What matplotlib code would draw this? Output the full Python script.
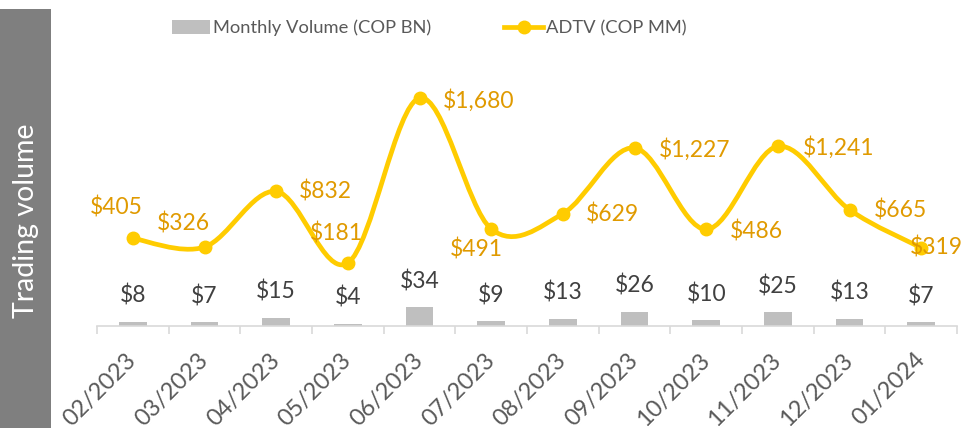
import matplotlib
matplotlib.use("Agg")
import matplotlib.pyplot as plt
from matplotlib.path import Path
from matplotlib.patches import PathPatch, Rectangle, Patch
from matplotlib.lines import Line2D
import numpy as np

plt.rcParams['font.family'] = ['Lato', 'DejaVu Sans']

months = ["02/2023", "03/2023", "04/2023", "05/2023", "06/2023", "07/2023",
          "08/2023", "09/2023", "10/2023", "11/2023", "12/2023", "01/2024"]
monthly_volume = [8, 7, 15, 4, 34, 9, 13, 26, 10, 25, 13, 7]
adtv = [405, 326, 832, 181, 1680, 491, 629, 1227, 486, 1241, 665, 319]

bar_name = "Monthly Volume (COP BN)"
line_name = "ADTV (COP MM)"
side_title = "Trading volume"

BAR_C = "#BFBFBF"
LINE_C = "#FFCC00"
LAB_C = "#E09A00"
TXT_C = "#404040"
TICK_C = "#595959"
AX_C = "#D9D9D9"

W, H = 963, 428
fig = plt.figure(figsize=(W / 100, H / 100), dpi=100)

# side band
fig.patches.append(Rectangle((0, 0), 51 / W, (H - 9) / H, transform=fig.transFigure,
                             facecolor="#7F7F7F", edgecolor="none", zorder=0))
fig.text(26 / W, 1 - 221 / H, side_title, rotation=90, color="white", fontsize=20.5,
         ha="center", va="center")

left, right = 97 / W, 957 / W
bottom, top = (H - 326) / H, (H - 60) / H
ax = fig.add_axes([left, bottom, right - left, top - bottom])
ax2 = ax.twinx()

x = np.arange(len(months))
ax.bar(x, monthly_volume, width=0.39, color=BAR_C, zorder=2)
ax.set_xlim(-0.5, len(months) - 0.5)
ax.set_ylim(0, 479)
ax2.set_ylim(-392, 2026)

for a in (ax, ax2):
    for s in ("top", "right", "left"):
        a.spines[s].set_visible(False)
    a.set_yticks([])
ax2.spines["bottom"].set_visible(False)
ax.spines["bottom"].set_color(AX_C)
ax.spines["bottom"].set_linewidth(1.2)

ax.set_xticks(x)
ax.set_xticklabels(months, rotation=45, ha="right", va="center", rotation_mode="anchor",
                   fontsize=17, color=TICK_C)
ax.tick_params(axis="x", which="major", length=0, pad=22)
ax.set_xticks(np.arange(-0.5, len(months)), minor=True)
ax.tick_params(axis="x", which="minor", length=5.5, color=AX_C, width=1.2)

# bar labels
for xi, v in zip(x, monthly_volume):
    ax.annotate(f"${v}", (xi, v), xytext=(0, 26), textcoords="offset pixels",
                ha="center", va="center", fontsize=16.5, color=TXT_C)

# smooth line (Catmull-Rom -> cubic Bezier)
pts = np.column_stack([x, adtv]).astype(float)
verts = [tuple(pts[0])]
codes = [Path.MOVETO]
n = len(pts)
for i in range(n - 1):
    p0 = pts[i - 1] if i > 0 else pts[i]
    p1 = pts[i]
    p2 = pts[i + 1]
    p3 = pts[i + 2] if i + 2 < n else pts[i + 1]
    c1 = p1 + (p2 - p0) / 6.0
    c2 = p2 - (p3 - p1) / 6.0
    verts += [tuple(c1), tuple(c2), tuple(p2)]
    codes += [Path.CURVE4] * 3
ax2.add_patch(PathPatch(Path(verts, codes), facecolor="none", edgecolor=LINE_C,
                        lw=3.4, capstyle="round", joinstyle="round", zorder=3))
ax2.plot(x, adtv, linestyle="none", marker="o", markersize=9, color=LINE_C, zorder=4)

# line labels: (dx, dy, ha)
offsets = [(10, 31, "right"), (5, 24, "right"), (23, 0, "left"), (-12, 29, "center"),
           (23, -2, "left"), (-15, -21, "center"), (23, -1, "left"), (24, -2, "left"),
           (24, -2, "left"), (25, -1, "left"), (24, -1, "left"), (-11, 0, "left")]
for xi, v, (dx, dy, ha) in zip(x, adtv, offsets):
    ax2.annotate(f"${v:,}", (xi, v), xytext=(dx, dy), textcoords="offset pixels",
                 ha=ha, va="center", fontsize=16.5, color=LAB_C, zorder=5)

handles = [Patch(facecolor=BAR_C, edgecolor="none"),
           Line2D([], [], color=LINE_C, lw=3.4, marker="o", markersize=9)]
fig.legend(handles, [bar_name, line_name], loc="center", ncol=2,
           bbox_to_anchor=(429 / W, 1 - 28 / H), frameon=False, fontsize=13.2,
           labelcolor=TICK_C, handlelength=2.1, handletextpad=0.15, columnspacing=4.0,
           handleheight=0.75, borderpad=0, borderaxespad=0)

fig.savefig("out.png", dpi=100)
